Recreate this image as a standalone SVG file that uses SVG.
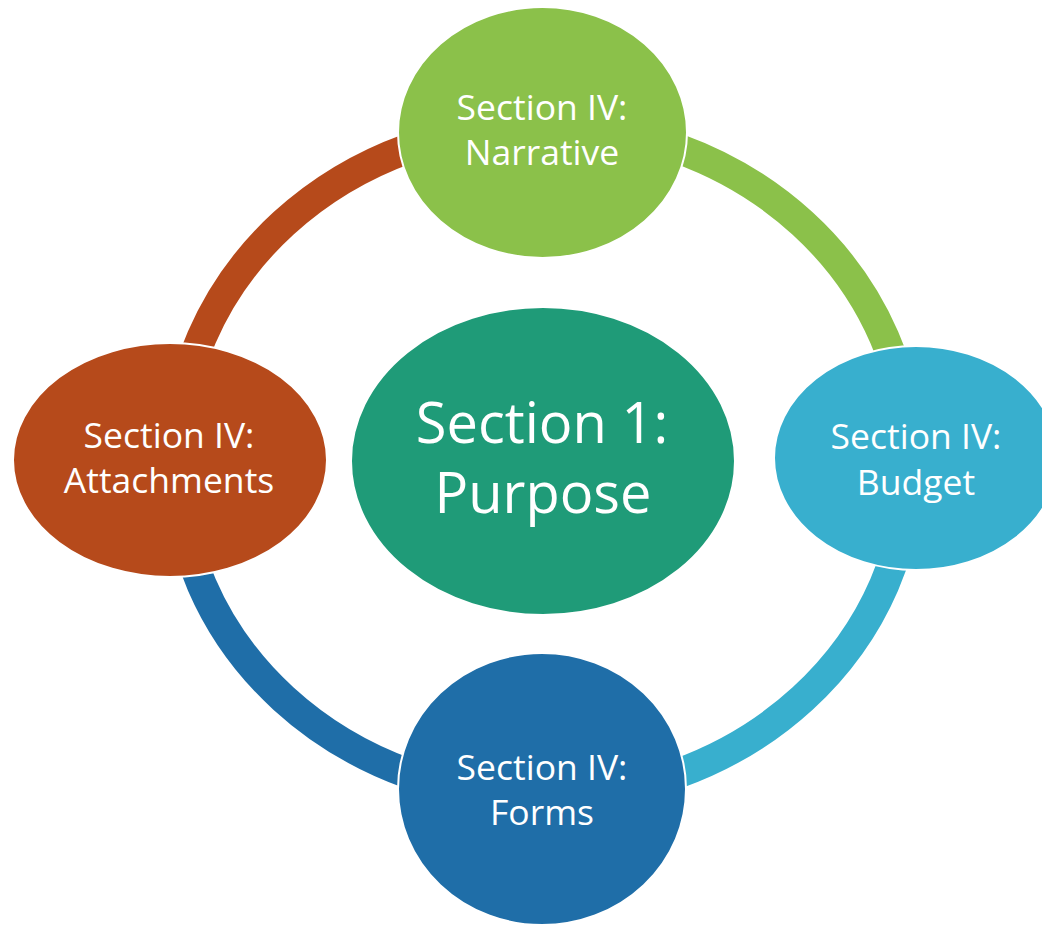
<svg xmlns="http://www.w3.org/2000/svg" width="1042" height="927" viewBox="0 0 1042 927">
<style>
.ring{fill:none;stroke-width:30;stroke-linecap:butt}
.node{stroke:#ffffff;stroke-width:2}
.lbl{font-family:"Open Sans","Noto Sans","Liberation Sans",sans-serif;fill:#ffffff;text-anchor:middle;font-size:35.5px}
.big{font-size:56px}
</style>
<rect width="1042" height="927" fill="#ffffff"/>
<g id="connectors">
<path class="ring" stroke="#8BC14A" d="M543,125 A367,336 0 0 1 910,461"/>
<path class="ring" stroke="#38AFCE" d="M910,461 A367,336 0 0 1 543,797"/>
<path class="ring" stroke="#1F6EA8" d="M543,797 A367,336 0 0 1 176,461"/>
<path class="ring" stroke="#B64A1B" d="M176,461 A367,336 0 0 1 543,125"/>
</g>
<g id="node-center">
<ellipse class="node" cx="543" cy="461" rx="192" ry="154" fill="#1F9B78"/>
<text class="lbl big" x="542" y="443">Section 1:</text>
<text class="lbl big" x="543" y="513">Purpose</text>
</g>
<g id="node-narrative">
<ellipse class="node" cx="542.5" cy="132.5" rx="144.5" ry="125.5" fill="#8BC14A"/>
<text class="lbl" x="542" y="120">Section IV:</text>
<text class="lbl" x="542" y="165">Narrative</text>
</g>
<g id="node-budget">
<ellipse class="node" cx="916" cy="458" rx="142" ry="112" fill="#38AFCE"/>
<text class="lbl" x="916" y="449">Section IV:</text>
<text class="lbl" x="916" y="495">Budget</text>
</g>
<g id="node-forms">
<ellipse class="node" cx="542" cy="789" rx="144" ry="136" fill="#1F6EA8"/>
<text class="lbl" x="542" y="780">Section IV:</text>
<text class="lbl" x="542" y="825">Forms</text>
</g>
<g id="node-attachments">
<ellipse class="node" cx="170" cy="460" rx="157" ry="117" fill="#B64A1B"/>
<text class="lbl" x="169" y="448">Section IV:</text>
<text class="lbl" x="169" y="493">Attachments</text>
</g>
</svg>
